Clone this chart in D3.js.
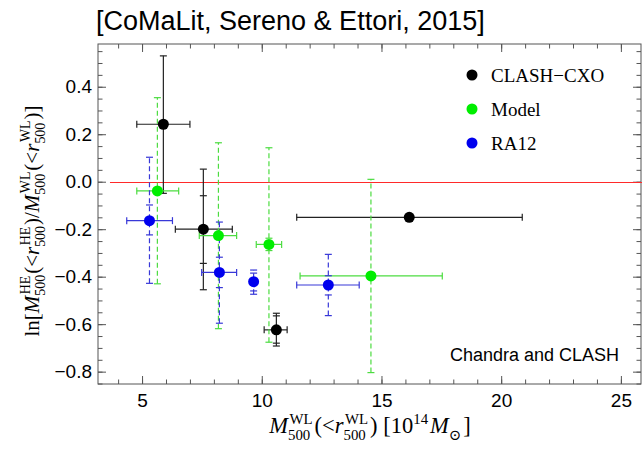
<!DOCTYPE html>
<html>
<head>
<meta charset="utf-8">
<script src="https://cdn.jsdelivr.net/npm/d3@7"></script>
<style>
  html, body { margin: 0; padding: 0; background: #fff; }
  svg { display: block; font-family: "Liberation Serif", "DejaVu Serif", serif; }
  .tick text { font-size: 19px; fill: #000; }
</style>
</head>
<body>
<svg id="chart" width="642" height="462"></svg>
<script>
// Data.
const seriesNames = ["CLASH\u2212CXO", "Model", "RA12"];

// CLASH-CXO
const cxoX = [5.89, 7.56, 10.61, 16.16];
const cxoY = [0.242, -0.200, -0.624, -0.150];
const cxoXLo = [4.78, 6.39, 10.10, 11.46];
const cxoXHi = [7.00, 8.77, 11.06, 20.88];
const cxoYLo = [-0.049, -0.455, -0.692, -0.150];
const cxoYHi = [0.530, 0.053, -0.554, -0.150];
const cxoYIn = [null, [-0.344, -0.059], [-0.680, -0.565], null];

// Model
const modelX = [5.64, 8.19, 10.30, 14.56];
const modelY = [-0.039, -0.227, -0.264, -0.397];
const modelXLo = [4.78, 7.39, 9.77, 11.60];
const modelXHi = [6.53, 8.95, 10.83, 17.54];
const modelYLo = [-0.430, -0.619, -0.676, -0.804];
const modelYHi = [0.354, 0.164, 0.143, 0.010];
const modelYIn = [null, null, [-0.290, -0.238], null];

// RA12
const raX = [5.31, 8.23, 9.66, 12.78];
const raY = [-0.164, -0.382, -0.421, -0.435];
const raXLo = [4.36, 7.49, 9.66, 11.46];
const raXHi = [6.27, 8.95, 9.66, 14.07];
const raYLo = [-0.428, -0.596, -0.474, -0.564];
const raYHi = [0.103, -0.170, -0.372, -0.306];
const raYIn = [[-0.224, -0.098], [-0.446, -0.318], [-0.460, -0.385], [-0.477, -0.396]];

const xMajor = [5, 10, 15, 20, 25];
const xMinor = d3.range(4, 26, 1);
const yMajor = [-0.8, -0.6, -0.4, -0.2, 0.0, 0.2, 0.4];
const yMinor = d3.range(-0.85, 0.56, 0.05);
const xDomain = [3.16, 25.84];
const yDomain = [-0.852, 0.58];
const refLineX = [3.66, 26];
const refLineY = 0;

// Layout.
const svg = d3.select("#chart");
const mLeft = 98, mRight = 641, mTop = 44, mBottom = 384;

const x = d3.scaleLinear().domain(xDomain).range([mLeft, mRight]);
const y = d3.scaleLinear().domain(yDomain).range([mBottom, mTop]);

const frameColor = "#555";

// Title
svg.append("text")
  .attr("x", 96).attr("y", 30)
  .style("font-family", "'Liberation Sans', Arial, sans-serif")
  .style("font-size", "27px")
  .text("[CoMaLit, Sereno & Ettori, 2015]");

// Frame ticks (inward, on all four sides).
const addAxis = (axisFn, scale, values, size, pos, labels) => {
  const ax = axisFn(scale).tickValues(values).tickSize(-size).tickPadding(6)
    .tickFormat(labels ? labels : "");
  const g = svg.append("g").attr("transform", pos).call(ax);
  g.select(".domain").remove();
  g.selectAll(".tick line").attr("stroke", frameColor);
  return g;
};
const fmt = d3.format(".1f");
addAxis(d3.axisBottom, x, xMinor, 4.5, `translate(0,${mBottom})`);
addAxis(d3.axisBottom, x, xMajor, 8, `translate(0,${mBottom})`, d => d)
  .selectAll(".tick text").attr("dy", "0.75em").attr("y", 9);
addAxis(d3.axisTop, x, xMinor, 4.5, `translate(0,${mTop})`);
addAxis(d3.axisTop, x, xMajor, 8, `translate(0,${mTop})`);
addAxis(d3.axisLeft, y, yMinor, 4.5, `translate(${mLeft},0)`);
addAxis(d3.axisLeft, y, yMajor, 8, `translate(${mLeft},0)`, fmt);
addAxis(d3.axisRight, y, yMinor, 4.5, `translate(${mRight},0)`);
addAxis(d3.axisRight, y, yMajor, 8, `translate(${mRight},0)`);

svg.append("rect")
  .attr("x", mLeft).attr("y", mTop)
  .attr("width", mRight - mLeft).attr("height", mBottom - mTop)
  .attr("fill", "none").attr("stroke", frameColor);

// Reference line at zero.
svg.append("line")
  .attr("x1", x(refLineX[0])).attr("x2", x(refLineX[1]))
  .attr("y1", Math.round(y(refLineY)) + 0.5).attr("y2", Math.round(y(refLineY)) + 0.5)
  .attr("stroke", "#ff2a2a").attr("stroke-width", 1.1);

// Error bars and points.
const series = [
  { name: seriesNames[0], fill: "#000", bar: "#222", dash: null,
    xs: cxoX, ys: cxoY, xlo: cxoXLo, xhi: cxoXHi, ylo: cxoYLo, yhi: cxoYHi, yin: cxoYIn },
  { name: seriesNames[1], fill: "#00ee00", bar: "#4cdc40", dash: "5,3",
    xs: modelX, ys: modelY, xlo: modelXLo, xhi: modelXHi, ylo: modelYLo, yhi: modelYHi, yin: modelYIn },
  { name: seriesNames[2], fill: "#0000ee", bar: "#3838d8", dash: "5,3",
    xs: raX, ys: raY, xlo: raXLo, xhi: raXHi, ylo: raYLo, yhi: raYHi, yin: raYIn }
];

const cap = 3.5;
series.forEach(s => {
  const g = svg.append("g").attr("stroke", s.bar).attr("stroke-width", 1.2).attr("fill", "none");
  s.xs.forEach((xv, i) => {
    const px = x(xv), py = y(s.ys[i]);
    // horizontal bar
    if (s.xhi[i] > s.xlo[i]) {
      g.append("line").attr("x1", x(s.xlo[i])).attr("x2", x(s.xhi[i])).attr("y1", py).attr("y2", py);
      [s.xlo[i], s.xhi[i]].forEach(v => g.append("line")
        .attr("x1", x(v)).attr("x2", x(v)).attr("y1", py - cap).attr("y2", py + cap));
    }
    // vertical bar
    if (s.yhi[i] > s.ylo[i]) {
      g.append("line").attr("x1", px).attr("x2", px)
        .attr("y1", y(s.ylo[i])).attr("y2", y(s.yhi[i]))
        .attr("stroke-dasharray", s.dash);
      const caps = [s.ylo[i], s.yhi[i]].concat(s.yin[i] || []);
      caps.forEach(v => g.append("line")
        .attr("x1", px - cap).attr("x2", px + cap).attr("y1", y(v)).attr("y2", y(v)));
    }
  });
});
series.forEach(s => {
  svg.append("g").selectAll("circle").data(s.xs).join("circle")
    .attr("cx", d => x(d)).attr("cy", (d, i) => y(s.ys[i]))
    .attr("r", 5.5).attr("fill", s.fill);
});

// Legend
series.forEach((s, i) => {
  const ly = 75 + i * 34;
  svg.append("circle").attr("cx", 472).attr("cy", ly).attr("r", 5.5).attr("fill", s.fill);
  svg.append("text").attr("x", 491).attr("y", ly).attr("dy", "0.35em")
    .style("font-size", "19px").text(s.name);
});

svg.append("text")
  .attr("x", 450).attr("y", 361)
  .style("font-family", "'Liberation Sans', Arial, sans-serif")
  .style("font-size", "18px")
  .text("Chandra and CLASH");

// Math-style axis labels built from pieces.
const mathText = (parent, parts, size, gap) => {
  const g = parent.append("g");
  let cx = 0;
  parts.forEach(p => {
    let w = 0;
    if (p.t) {
      const t = g.append("text").attr("x", cx).attr("y", 0)
        .style("font-size", size + "px")
        .style("font-style", p.i ? "italic" : "normal").text(p.t);
      w = t.node().getComputedTextLength();
    }
    let w2 = 0;
    const off = p.i ? 1.5 : 0;
    if (p.sup) {
      const s = g.append("text").attr("x", cx + w + off).attr("y", -size * 0.42)
        .style("font-size", size * 0.66 + "px").text(p.sup);
      w2 = Math.max(w2, s.node().getComputedTextLength() + off);
    }
    if (p.sub) {
      const s = g.append("text").attr("x", cx + w).attr("y", size * 0.3)
        .style("font-size", size * 0.66 + "px").text(p.sub);
      w2 = Math.max(w2, s.node().getComputedTextLength());
    }
    cx += w + w2 + (p.sup || p.sub ? gap : 0);
  });
  g.attr("transform", `translate(${-cx / 2},0)`);
  return cx;
};

const yLabel = svg.append("g").attr("transform", "translate(39,221) rotate(-90)");
mathText(yLabel, [
  { t: "ln[" },
  { t: "M", i: true, sup: "HE", sub: "500" },
  { t: "(<" },
  { t: "r", i: true, sup: "HE", sub: "500" },
  { t: ")/" },
  { t: "M", i: true, sup: "WL", sub: "500" },
  { t: "(<" },
  { t: "r", i: true, sup: "WL", sub: "500" },
  { t: ")]" }
], 21, 1);

const xLabel = svg.append("g").attr("transform", "translate(370,433)");
mathText(xLabel, [
  { t: "M", i: true, sup: "WL", sub: "500" },
  { t: "(<" },
  { t: "r", i: true, sup: "WL", sub: "500" },
  { t: ") [10", sup: "14" },
  { t: "M", i: true, sub: "\u2299" },
  { t: "]" }
], 22.5, 2);
</script>
</body>
</html>
